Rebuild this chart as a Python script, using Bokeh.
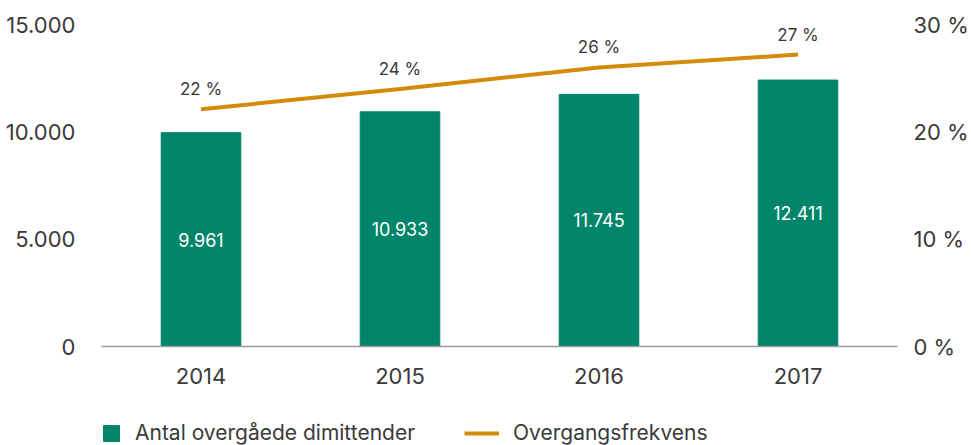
from bokeh.plotting import figure
from bokeh.models import (ColumnDataSource, Range1d, LinearAxis, FixedTicker,
                          Legend, LegendItem, LabelSet, FactorRange)
from bokeh.layouts import column
from bokeh.core.properties import value
from bokeh.embed import file_html
from bokeh.resources import INLINE

years = ["2014", "2015", "2016", "2017"]
graduates = [9961, 10933, 11745, 12411]
graduate_labels = ["9.961", "10.933", "11.745", "12.411"]
rate = [22.1, 24.0, 26.0, 27.2]
rate_labels = ["22 %", "24 %", "26 %", "27 %"]
left_ticks = [0, 5000, 10000, 15000]
left_tick_labels = ["0", "5.000", "10.000", "15.000"]
right_ticks = [0, 10, 20, 30]
right_tick_labels = ["0 %", "10 %", "20 %", "30 %"]
series_names = ["Antal overgåede dimittender", "Overgangsfrekvens"]

GREEN = "#00856A"
ORANGE = "#D48B0C"
TEXT = "#3a3a3a"
FONT = "Inter"
W = 971

src = ColumnDataSource(dict(
    year=years, grad=graduates, grad_half=[g / 2 for g in graduates],
    grad_lab=graduate_labels, rate=rate, rate_lab=rate_labels,
))

p = figure(width=W, height=398, output_backend="svg", toolbar_location=None,
           x_range=FactorRange(factors=years, range_padding=0),
           y_range=Range1d(0, 15000),
           min_border_left=101, min_border_right=W - 897, min_border_top=24,
           min_border_bottom=52)
p.outline_line_color = None
p.grid.grid_line_color = None
p.extra_y_ranges = {"pct": Range1d(0, 30)}

p.vbar(x="year", top="grad", width=0.4, source=src, color=GREEN)
p.line(x="year", y="rate", source=src, y_range_name="pct",
       line_color=ORANGE, line_width=4)

p.add_layout(LabelSet(x="year", y="grad_half", text="grad_lab", source=src,
                      text_align="center", text_baseline="middle",
                      text_color="white", text_font=value(FONT), text_font_size="18px"))
p.add_layout(LabelSet(x="year", y="rate", text="rate_lab", source=src,
                      y_range_name="pct", y_offset=20,
                      text_align="center", text_baseline="middle",
                      text_color=TEXT, text_font=value(FONT), text_font_size="17px"))

def style_axis(ax):
    ax.axis_line_color = None
    ax.major_tick_line_color = None
    ax.minor_tick_line_color = None
    ax.major_label_standoff = 20
    ax.major_label_text_font = FONT
    ax.major_label_text_font_size = "22px"
    ax.major_label_text_color = TEXT

la = p.yaxis[0]
la.ticker = FixedTicker(ticks=left_ticks)
la.major_label_overrides = dict(zip(left_ticks, left_tick_labels))
style_axis(la)

ra = LinearAxis(y_range_name="pct", ticker=FixedTicker(ticks=right_ticks))
ra.major_label_overrides = dict(zip(right_ticks, right_tick_labels))
style_axis(ra)
ra.major_label_standoff = 10
p.add_layout(ra, "right")

xa = p.xaxis[0]
style_axis(xa)
xa.axis_line_color = "#9a9a9a"
xa.axis_line_width = 1.5
xa.major_label_standoff = 15

# legend strip (its frame is aligned with the chart's frame by the column layout)
lf = figure(width=W, height=47, output_backend="svg", toolbar_location=None,
            x_range=Range1d(0, 1), y_range=Range1d(0, 1),
            x_axis_location=None, y_axis_location=None,
            min_border_left=0, min_border_right=0, min_border_top=0, min_border_bottom=0)
lf.outline_line_color = None
lf.grid.visible = False
hidden = ColumnDataSource(dict(x=[-10], y=[-10]))
r_bar = lf.vbar(x="x", top="y", width=0.4, source=hidden, color=GREEN)
r_line = lf.line(x="x", y="y", source=hidden, line_color=ORANGE, line_width=4)

common = dict(padding=0, margin=0, glyph_height=20, label_standoff=14,
              label_text_font=FONT, label_text_font_size="21px", label_text_color=TEXT,
              background_fill_alpha=0, border_line_color=None)
leg1 = Legend(items=[LegendItem(label=series_names[0], renderers=[r_bar])],
              location=(0, 0), glyph_width=20, **common)
leg2 = Legend(items=[LegendItem(label=series_names[1], renderers=[r_line])],
              location=(363, 0), glyph_width=35, **common)
lf.add_layout(leg1, "center")
lf.add_layout(leg2, "center")

open("out.html", "w").write(file_html(column(p, lf, spacing=0), INLINE))
